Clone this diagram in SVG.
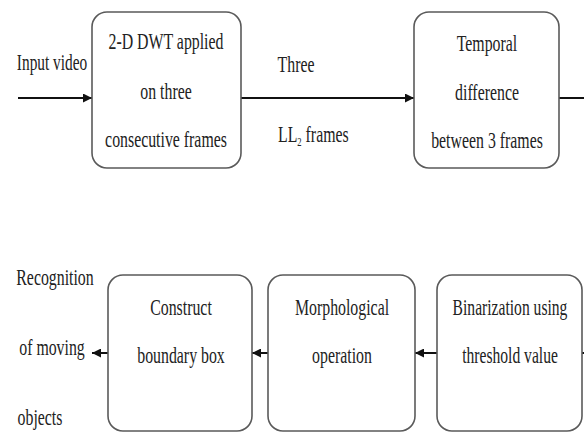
<svg xmlns="http://www.w3.org/2000/svg" width="584" height="433" viewBox="0 0 584 433">
<style>
.box{fill:#fff;stroke:#5a5a5a;stroke-width:1.6}
text{font-family:"Liberation Serif","Times New Roman",serif;font-size:24px;fill:#222;text-anchor:middle}
.l{text-anchor:start}
.s{font-size:13px}
.c{stroke:#111;stroke-width:2;fill:none}
</style>
<defs>
<marker id="ah" viewBox="0 0 10 10" refX="10" refY="5" markerWidth="4.5" markerHeight="4.5" orient="auto" markerUnits="strokeWidth">
<path d="M0,0 L10,5 L0,10 Z" fill="#111"/>
</marker>
</defs>
<rect width="584" height="433" fill="#fff"/>
<g id="connectors">
<line class="c" x1="18" y1="98" x2="92" y2="98" marker-end="url(#ah)"/>
<line class="c" x1="241" y1="98" x2="414" y2="98" marker-end="url(#ah)"/>
<line class="c" x1="559" y1="98" x2="584" y2="98"/>
<line class="c" x1="582" y1="353" x2="584" y2="353"/>
<line class="c" x1="437" y1="353" x2="415" y2="353" marker-end="url(#ah)"/>
<line class="c" x1="268" y1="353" x2="252" y2="353" marker-end="url(#ah)"/>
<line class="c" x1="108" y1="353" x2="92" y2="353" marker-end="url(#ah)"/>
</g>
<g id="input-label">
<text transform="translate(52,70) scale(0.64,1)">Input video</text>
</g>
<g id="dwt">
<rect class="box" x="92" y="12" width="149" height="156" rx="15"/>
<text transform="translate(166,49) scale(0.66,1)">2-D DWT applied</text>
<text transform="translate(166,99) scale(0.66,1)">on three</text>
<text transform="translate(166,147) scale(0.66,1)">consecutive frames</text>
</g>
<g id="ll2-label">
<text transform="translate(296,72) scale(0.66,1)">Three</text>
<text class="l" transform="translate(278,142) scale(0.66,1)">LL<tspan class="s" dy="4">2</tspan><tspan dy="-4"> frames</tspan></text>
</g>
<g id="temporal">
<rect class="box" x="414" y="12" width="145" height="156" rx="15"/>
<text transform="translate(487,51) scale(0.66,1)">Temporal</text>
<text transform="translate(487,100) scale(0.66,1)">difference</text>
<text transform="translate(487,148) scale(0.66,1)">between 3 frames</text>
</g>
<g id="binarization">
<rect class="box" x="437" y="275" width="145" height="156" rx="15"/>
<text transform="translate(510,315) scale(0.65,1)">Binarization using</text>
<text transform="translate(510,363) scale(0.65,1)">threshold value</text>
</g>
<g id="morphological">
<rect class="box" x="268" y="275" width="147" height="156" rx="15"/>
<text transform="translate(342,315) scale(0.66,1)">Morphological</text>
<text transform="translate(342,363) scale(0.66,1)">operation</text>
</g>
<g id="boundary">
<rect class="box" x="108" y="275" width="144" height="156" rx="15"/>
<text transform="translate(181,315) scale(0.66,1)">Construct</text>
<text transform="translate(181,363) scale(0.66,1)">boundary box</text>
</g>
<g id="output-label">
<text transform="translate(55,285) scale(0.66,1)">Recognition</text>
<text transform="translate(52,355) scale(0.66,1)">of moving</text>
<text transform="translate(40,425) scale(0.66,1)">objects</text>
</g>
</svg>
